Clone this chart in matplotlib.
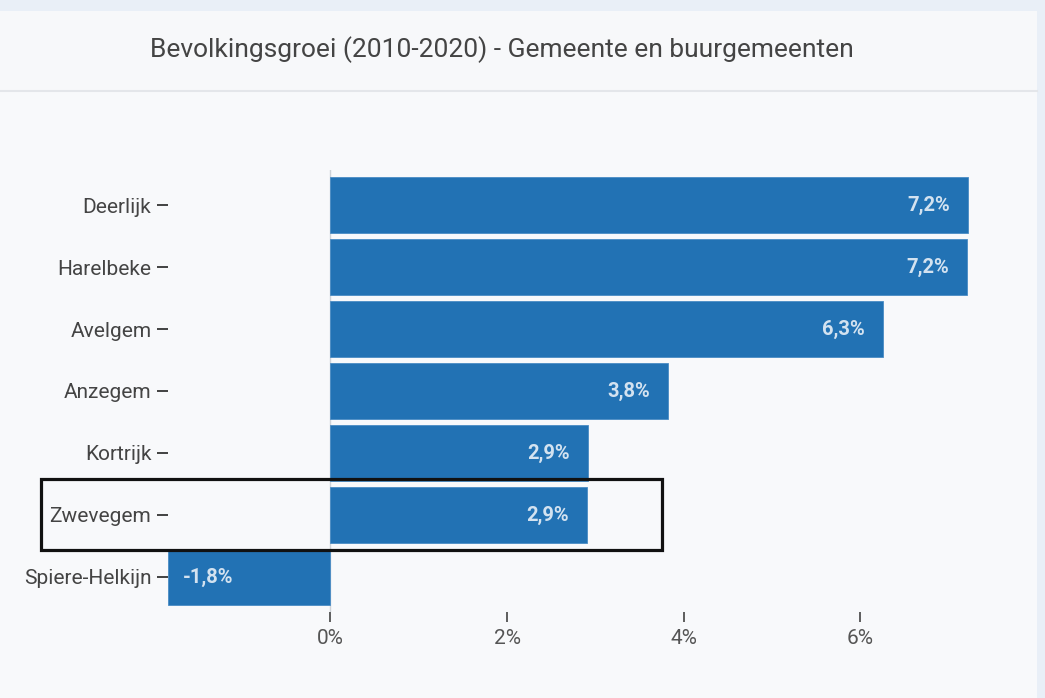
import matplotlib
matplotlib.use("Agg")
import matplotlib.pyplot as plt
from matplotlib.patches import Rectangle
from matplotlib.lines import Line2D

plt.rcParams["font.family"] = ["Roboto", "DejaVu Sans"]

title = "Bevolkingsgroei (2010-2020) - Gemeente en buurgemeenten"
gemeenten = ["Deerlijk", "Harelbeke", "Avelgem", "Anzegem", "Kortrijk", "Zwevegem", "Spiere-Helkijn"]
groei = [7.22, 7.21, 6.26, 3.82, 2.92, 2.90, -1.84]
x_ticks = [0, 2, 4, 6]
highlight = "Zwevegem"

W, H = 1045, 698
fig = plt.figure(figsize=(W / 100, H / 100), dpi=100)
fig.patch.set_facecolor("#e9eff7")

def px(x0, y0, w, h):
    # pixel box (top-left origin) to figure fraction
    return x0 / W, 1 - (y0 + h) / H, w / W, h / H

# card + header
bx = px(0, 11, 1037, 687)
fig.add_artist(Rectangle(bx[:2], bx[2], bx[3], transform=fig.transFigure,
                         facecolor="#f8f9fb", edgecolor="none", zorder=0))
hx = px(0, 11, 1037, 80)
fig.add_artist(Rectangle(hx[:2], hx[2], hx[3], transform=fig.transFigure,
                         facecolor="#f7f8fa", edgecolor="none", zorder=0))
fig.add_artist(Line2D([0, 1037 / W], [1 - 91 / H] * 2, transform=fig.transFigure,
                      color="#e4e6ea", lw=1.5, zorder=1))
fig.text(502 / W, 1 - 50 / H, title, ha="center", va="center",
         fontsize=19, color="#444444")

# plot area
xmin, xmax = -1.84, 7.6
ax = fig.add_axes(px(168, 170, (xmax - xmin) * 88.3, 442))
ax.set_facecolor("none")
ypos = list(range(len(gemeenten)))
ax.barh(ypos, groei, height=0.9, color="#2272b4", edgecolor="#4a8cc4", linewidth=0.6, zorder=2)
ax.set_xlim(xmin, xmax)
ax.set_ylim(len(gemeenten) - 0.435, -0.565)
ax.axvline(0, color="#cfd3d8", lw=1, zorder=1)

for y, v in zip(ypos, groei):
    lbl = f"{v:.1f}%".replace(".", ",")
    if v >= 0:
        ax.annotate(lbl, (v, y), xytext=(-13, 0), textcoords="offset points",
                    ha="right", va="center", fontsize=14.5, fontweight="bold",
                    color="#d3e2f0", zorder=3)
    else:
        ax.annotate(lbl, (v, y), xytext=(11, 0), textcoords="offset points",
                    ha="left", va="center", fontsize=14.5, fontweight="bold",
                    color="#d3e2f0", zorder=3)

ax.set_yticks(ypos)
ax.set_yticklabels(gemeenten)
ax.set_xticks(x_ticks)
ax.set_xticklabels([f"{t}%" for t in x_ticks])
ax.tick_params(axis="y", length=8, width=1.3, color="#333333", pad=4,
               labelsize=15, labelcolor="#444444")
ax.tick_params(axis="x", length=7, width=1.1, color="#333333", pad=5,
               labelsize=15, labelcolor="#555555")
for s in ax.spines.values():
    s.set_visible(False)

# highlight box around the gemeente
rb = px(41, 479, 621, 71)
fig.add_artist(Rectangle(rb[:2], rb[2], rb[3], transform=fig.transFigure,
                         facecolor="none", edgecolor="#111111", lw=2.3, zorder=5))

fig.savefig("out.png", dpi=100, facecolor=fig.get_facecolor())
